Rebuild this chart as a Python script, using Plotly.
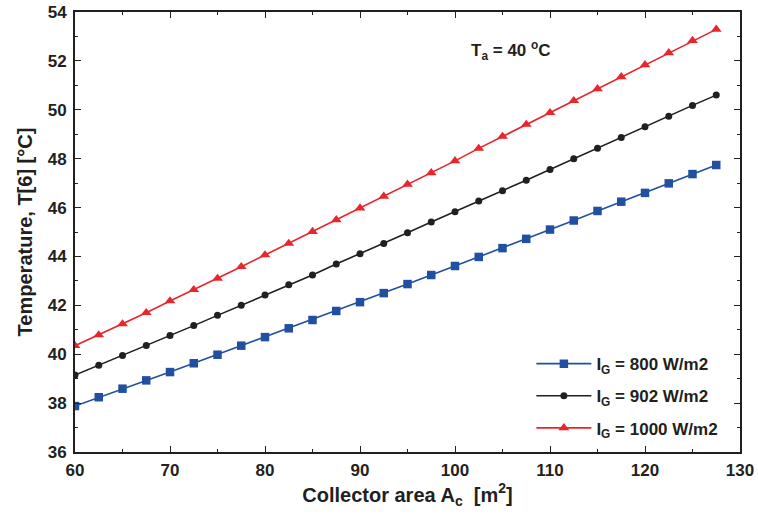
import plotly.graph_objects as go

area = [60, 62.5, 65, 67.5, 70, 72.5, 75, 77.5, 80, 82.5, 85, 87.5, 90, 92.5,
        95, 97.5, 100, 102.5, 105, 107.5, 110, 112.5, 115, 117.5, 120, 122.5, 125, 127.5]

t_800 = [37.88, 38.24, 38.59, 38.93, 39.27, 39.63, 39.98, 40.35, 40.70, 41.06,
         41.40, 41.77, 42.13, 42.50, 42.87, 43.24, 43.61, 43.98, 44.34, 44.72,
         45.10, 45.47, 45.86, 46.24, 46.60, 46.99, 47.37, 47.74]
t_902 = [39.15, 39.55, 39.95, 40.36, 40.77, 41.17, 41.59, 42.00, 42.42, 42.84,
         43.24, 43.69, 44.11, 44.53, 44.97, 45.41, 45.83, 46.27, 46.69, 47.12,
         47.56, 48.00, 48.43, 48.87, 49.31, 49.74, 50.18, 50.60]
t_1000 = [40.35, 40.79, 41.24, 41.70, 42.18, 42.64, 43.10, 43.58, 44.06, 44.53,
          45.02, 45.50, 45.98, 46.46, 46.95, 47.42, 47.91, 48.42, 48.91, 49.40,
          49.88, 50.37, 50.86, 51.35, 51.84, 52.33, 52.83, 53.29]

names = ["I<sub>G</sub> = 800 W/m2", "I<sub>G</sub> = 902 W/m2", "I<sub>G</sub> = 1000 W/m2"]
x_ticks = [60, 70, 80, 90, 100, 110, 120, 130]
y_ticks = [36, 38, 40, 42, 44, 46, 48, 50, 52, 54]

FONT = "Liberation Sans, Arial, sans-serif"
AX = "#231f20"

fig = go.Figure()
series = [
    (t_800, names[0], "#2150a0", "square", 8.5),
    (t_902, names[1], "#231f20", "circle", 7),
    (t_1000, names[2], "#e8262c", "triangle-up", 9.5),
]
for i, (ys, nm, col, sym, sz) in enumerate(series):
    fig.add_trace(go.Scatter(
        x=area, y=ys, name=nm, mode="lines+markers",
        line=dict(color=col, width=1.6),
        marker=dict(symbol=sym, size=sz, color=col, line=dict(width=0)),
        legendgroup=str(i),
    ))

axis_common = dict(
    showgrid=False, zeroline=False, showline=True, linecolor=AX, linewidth=2,
    mirror="ticks", ticks="inside", ticklen=6, tickwidth=1.3, tickcolor=AX,
    tickfont=dict(family=FONT, size=17, color=AX, weight="bold"),
    automargin=False,
)

fig.update_xaxes(
    range=[60, 130], tickvals=x_ticks,
    minor=dict(ticks="inside", ticklen=3, tickwidth=1.2, tickcolor=AX, dtick=5),
    title=dict(text="Collector area A<sub>c</sub>  [m<sup>2</sup>]",
               font=dict(family=FONT, size=20, color=AX, weight="bold"), standoff=8),
    ticklabelstandoff=2,
    **axis_common,
)
fig.update_yaxes(
    range=[36, 54], tickvals=y_ticks,
    minor=dict(ticks="inside", ticklen=3, tickwidth=1.2, tickcolor=AX, dtick=1),
    title=dict(text="Temperature, T[6] [°C]",
               font=dict(family=FONT, size=20, color=AX, weight="bold"), standoff=10),
    ticklabelstandoff=3,
    **axis_common,
)

fig.add_annotation(
    xref="x domain", yref="y domain", x=0.655, y=0.945, showarrow=False,
    text="T<sub>a</sub> = 40 <sup>o</sup>C",
    font=dict(family=FONT, size=17, color=AX, weight="bold"),
)

fig.update_layout(
    width=758, height=521,
    margin=dict(l=75, r=18, t=12, b=69),
    paper_bgcolor="white", plot_bgcolor="white",
    showlegend=True,
    legend=dict(
        x=0.975, y=0.127, xanchor="right", yanchor="middle",
        bgcolor="rgba(0,0,0,0)", tracegroupgap=7, traceorder="grouped",
        font=dict(family=FONT, size=17, color=AX, weight="bold"),
        itemwidth=55,
    ),
)

fig.write_html("out.html", config={"displayModeBar": False},
               post_script="document.body.style.margin='0';")
